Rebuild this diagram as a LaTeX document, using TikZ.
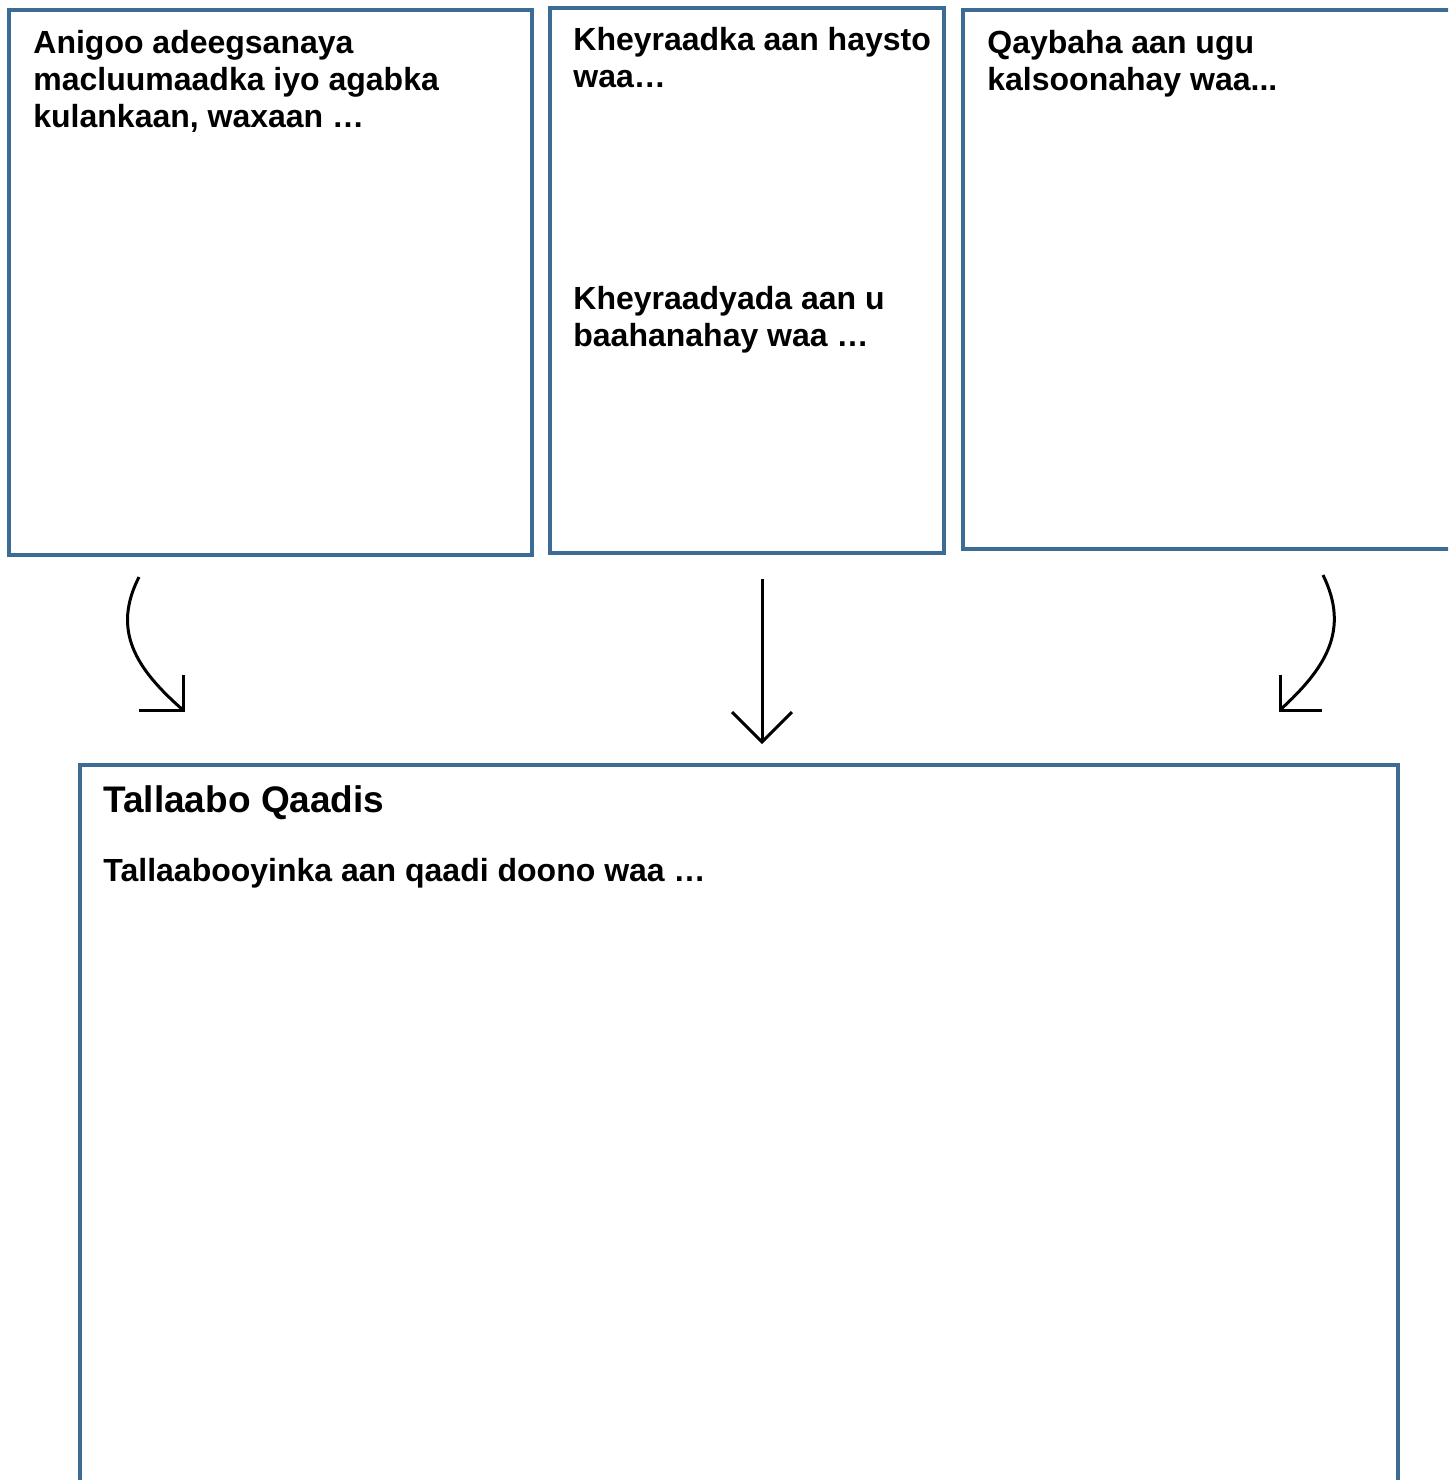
\documentclass[tikz,border=0pt]{standalone}
\usepackage{fontspec}
\setmainfont{Liberation Sans}
\usetikzlibrary{fit}
\definecolor{boxblue}{RGB}{60,108,150}
\tikzset{
  panel/.style={draw=boxblue, line width=2pt, inner sep=0pt, fill=white},
  lbl/.style={font=\fontsize{16}{18.5}\selectfont\bfseries, align=left, inner sep=0pt, anchor=base west},
  ttl/.style={font=\fontsize{18.5}{22}\selectfont\bfseries, align=left, inner sep=0pt, anchor=base west},
  flow/.style={draw=black, line width=1.5pt, line join=miter}
}
\begin{document}
\begin{tikzpicture}[x=0.5pt,y=-0.5pt]
\clip (0,0) rectangle (1448,1480);
\fill[white] (0,0) rectangle (1448,1480);

% boxes
\node[panel, fit={(9,10) (532,555)}] (b1) {};
\node[panel, fit={(550,8) (944,553)}] (b2) {};
\node[panel, fit={(963,10) (1460,549)}] (b3) {};
\node[panel, fit={(80,765) (1398,1500)}] (b4) {};

% texts (base anchor = baseline of the last line)
\node[lbl] (t1) at (33,127) {Anigoo adeegsanaya\\macluumaadka iyo agabka\\kulankaan, waxaan …};
\node[lbl] (t2) at (573,87) {Kheyraadka aan haysto\\waa…};
\node[lbl] (t3) at (573,346) {Kheyraadyada aan u\\baahanahay waa …};
\node[lbl] (t4) at (987,90) {Qaybaha aan ugu\\kalsoonahay waa...};
\node[ttl] (t5) at (103,812) {Tallaabo Qaadis};
\node[lbl] (t6) at (103,881) {Tallaabooyinka aan qaadi doono waa …};

% arrow end points
\coordinate (a1s) at (139,577);
\coordinate (a1e) at (183,710);
\coordinate (a2s) at (762,579);
\coordinate (a2e) at (762,742);
\coordinate (a3s) at (1323,575);
\coordinate (a3e) at (1280,710);

% left curved arrow with open corner head
\draw[flow] (a1s) .. controls (112,630) and (135,668) .. (a1e);
\draw[flow] ([xshift=-22pt]a1e) -- (a1e) -- ([yshift=17.5pt]a1e);
% centre straight arrow
\draw[flow] (a2s) -- (a2e);
\draw[flow] ([xshift=-15pt,yshift=15pt]a2e) -- (a2e) -- ([xshift=15pt,yshift=15pt]a2e);
% right curved arrow
\draw[flow] (a3s) .. controls (1350,630) and (1326,668) .. (a3e);
\draw[flow] ([xshift=21pt]a3e) -- (a3e) -- ([yshift=17.5pt]a3e);
\end{tikzpicture}
\end{document}
